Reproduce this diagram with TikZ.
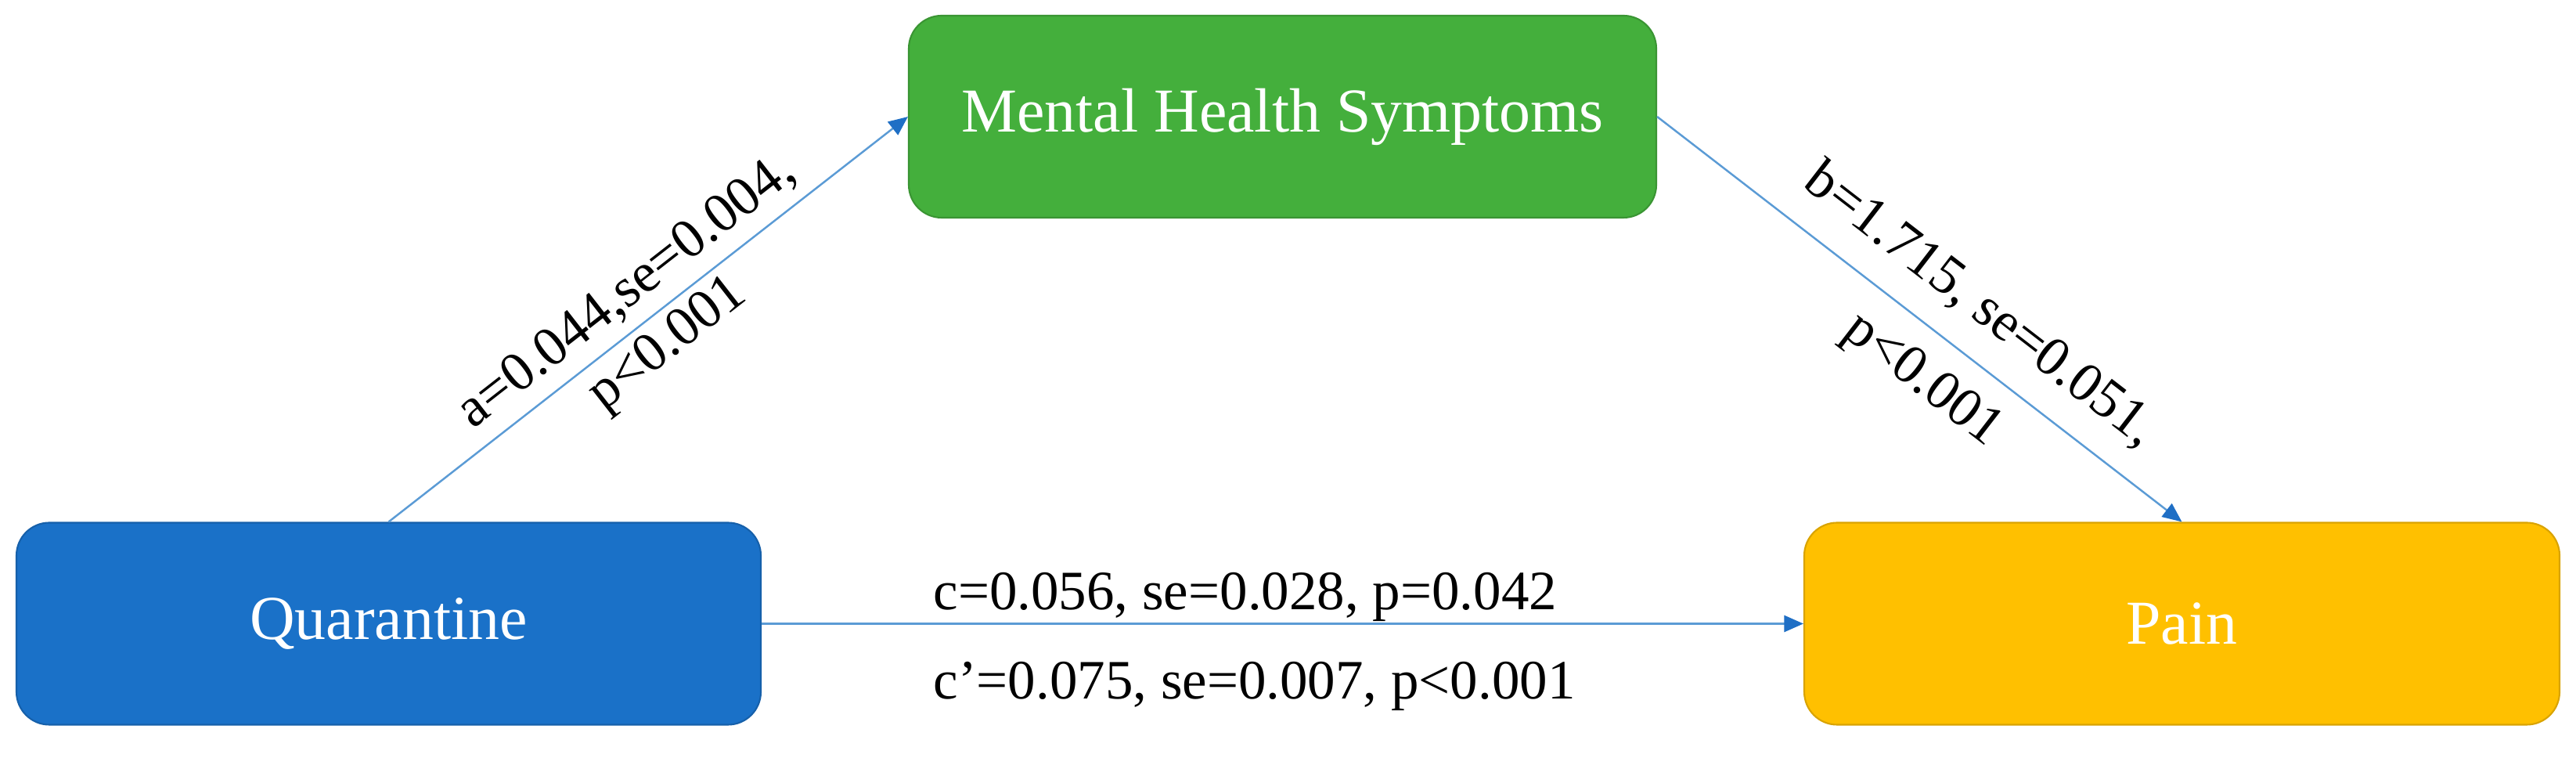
\documentclass[tikz,border=0pt]{standalone}
\usepackage{fontspec}
\setmainfont{Liberation Serif}
\usepackage{xcolor}
\usetikzlibrary{arrows.meta,positioning}
\definecolor{qblue}{HTML}{1A71C8}
\definecolor{mgreen}{HTML}{44AF3C}
\definecolor{pgold}{HTML}{FFC000}
\definecolor{linkblue}{HTML}{5B9BD5}
\definecolor{tipblue}{HTML}{1F6FC5}
\tikzset{>={Triangle[length=7pt,width=6pt,color=tipblue]}}

\begin{document}
\begin{tikzpicture}[
                          box/.style={rounded corners=0.42cm, minimum height=2.58cm, text=white,
                                      font=\fontsize{22.7}{27}\selectfont, line width=0.6pt},
                          qbox/.style={box, fill=qblue, draw=qblue!85!black},
                          mbox/.style={box, fill=mgreen, draw=mgreen!85!black},
                          pbox/.style={box, fill=pgold, draw=pgold!85!black},
                          link/.style={->, linkblue, line width=0.7pt},
                          lbl/.style={black, font=\fontsize{20.2}{24}\selectfont, inner sep=0pt, align=center},
                         ]

\useasboundingbox (0,0) rectangle (32.91,9.68);

\node[qbox, minimum width=9.51cm] (qua) at (4.965,1.715) {Quarantine};
\node[mbox, minimum width=9.55cm] (mhs) at (16.385,8.19) {Mental Health Symptoms};
\node[pbox, minimum width=9.65cm] (pain) at (27.875,1.715) {Pain};

\draw[link] (qua.north) -- (mhs.west)
      node[lbl, midway, sloped]{a=0.044,se=0.004,\\ p<0.001};
\draw[link] (mhs.east) -- (pain.north)
      node[lbl, pos=0.56, sloped]{b=1.715, se=0.051,\\[10pt] p<0.001};
\draw[link] (qua.east) -- (pain.west)
      node[lbl, pos=0.164, anchor=base west, yshift=0.18cm]{c=0.056, se=0.028, p=0.042}
      node[lbl, pos=0.164, anchor=base west, yshift=-0.96cm]{c’=0.075, se=0.007, p<0.001};

\end{tikzpicture}
\end{document}
